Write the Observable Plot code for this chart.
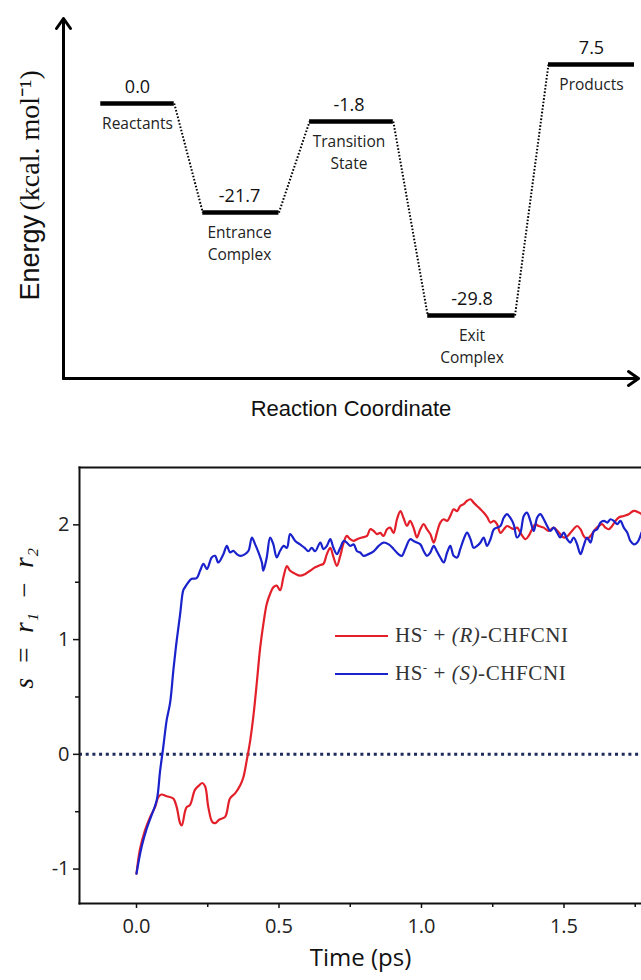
<!DOCTYPE html>
<html>
<head>
<meta charset="utf-8">
<script src="https://cdn.jsdelivr.net/npm/d3@7"></script>
<script src="https://cdn.jsdelivr.net/npm/@observablehq/plot@0.6"></script>
<style>
  body { margin: 0; background: #fff; }
  #wrap { position: relative; width: 641px; }
  #wrap svg { display: block; }
  #legend { position: absolute; left: 335px; top: 614px; font-family: "Liberation Serif", serif; font-size: 21px; letter-spacing: 0.6px; line-height: 33px; color: #333; }
  #legend .sw { display: inline-block; width: 53px; height: 0; border-top: 2.5px solid; vertical-align: middle; margin-right: 7px; position: relative; top: -1px; }
  #legend sup { font-size: 12px; }
</style>
</head>
<body>
<div id="wrap"></div>
<script>
// ---------- Top panel data ----------
const stages = ["Reactants", "Entrance\nComplex", "Transition\nState", "Exit\nComplex", "Products"];
const energies = [0.0, -21.7, -1.8, -29.8, 7.5];

// ---------- Bottom panel data (time in ps, s = r1 - r2) ----------
const timeR = [0,0.012,0.03,0.048,0.065,0.077,0.088,0.106,0.129,0.141,0.153,0.159,0.17,0.176,0.188,0.205,0.22,0.231,0.241,0.252,0.266,0.276,0.29,0.311,0.328,0.346,0.364,0.375,0.387,0.399,0.41,0.422,0.434,0.446,0.457,0.469,0.48,0.492,0.504,0.516,0.528,0.539,0.556,0.574,0.591,0.609,0.627,0.645,0.656,0.668,0.68,0.691,0.703,0.715,0.727,0.738,0.75,0.762,0.774,0.791,0.809,0.82,0.832,0.844,0.855,0.867,0.879,0.89,0.902,0.914,0.926,0.937,0.949,0.96,0.972,0.984,0.996,1.008,1.019,1.031,1.043,1.054,1.066,1.078,1.09,1.101,1.113,1.125,1.136,1.148,1.16,1.172,1.183,1.195,1.207,1.218,1.23,1.242,1.254,1.265,1.277,1.289,1.3,1.312,1.324,1.336,1.347,1.365,1.376,1.388,1.4,1.411,1.429,1.446,1.464,1.482,1.499,1.511,1.528,1.546,1.558,1.569,1.581,1.593,1.61,1.622,1.634,1.645,1.657,1.669,1.681,1.692,1.71,1.727,1.745,1.763,1.772];
const sR = [-1.04,-0.83,-0.66,-0.545,-0.46,-0.37,-0.35,-0.365,-0.385,-0.46,-0.6,-0.62,-0.5,-0.46,-0.44,-0.31,-0.27,-0.25,-0.28,-0.46,-0.59,-0.6,-0.57,-0.545,-0.385,-0.34,-0.27,-0.2,-0.05,0.12,0.33,0.62,0.93,1.15,1.31,1.4,1.455,1.47,1.43,1.55,1.64,1.6,1.575,1.557,1.57,1.6,1.63,1.65,1.66,1.745,1.8,1.72,1.643,1.73,1.846,1.904,1.875,1.86,1.875,1.89,1.904,1.962,1.947,1.92,1.93,1.904,1.962,1.976,1.93,2.049,2.12,2.06,1.99,2.035,1.976,1.89,1.962,2.006,1.962,1.92,1.846,1.93,2.02,2.049,2.035,2.078,2.136,2.12,2.165,2.18,2.21,2.223,2.194,2.165,2.136,2.107,2.07,2.02,2.035,2.006,1.93,1.962,1.99,1.976,1.962,1.976,1.93,1.875,1.904,1.962,2.006,1.99,1.976,1.947,1.976,1.933,1.89,1.9,1.947,1.99,1.962,1.904,1.875,1.904,1.962,1.99,2.006,1.976,1.962,1.99,2.035,2.064,2.078,2.093,2.122,2.107,2.093];

const timeS = [0,0.018,0.036,0.053,0.071,0.083,0.094,0.106,0.118,0.13,0.141,0.153,0.164,0.17,0.182,0.194,0.211,0.223,0.235,0.247,0.264,0.276,0.287,0.305,0.317,0.328,0.34,0.352,0.364,0.381,0.393,0.405,0.416,0.428,0.44,0.445,0.457,0.469,0.48,0.492,0.504,0.516,0.528,0.539,0.557,0.574,0.59,0.603,0.615,0.627,0.645,0.656,0.668,0.68,0.691,0.703,0.715,0.727,0.738,0.75,0.762,0.774,0.785,0.797,0.814,0.832,0.85,0.867,0.885,0.902,0.919,0.931,0.943,0.96,0.972,0.984,0.996,1.008,1.019,1.031,1.043,1.054,1.066,1.078,1.09,1.101,1.113,1.125,1.136,1.148,1.16,1.172,1.183,1.195,1.207,1.218,1.23,1.242,1.254,1.265,1.277,1.289,1.3,1.312,1.324,1.335,1.347,1.359,1.37,1.382,1.394,1.406,1.417,1.429,1.441,1.452,1.464,1.476,1.487,1.499,1.511,1.522,1.534,1.546,1.558,1.569,1.581,1.593,1.605,1.616,1.628,1.64,1.652,1.663,1.675,1.687,1.698,1.71,1.722,1.733,1.745,1.757,1.772];
const sS = [-1.04,-0.806,-0.646,-0.53,-0.4,-0.14,0.064,0.3,0.45,0.75,0.99,1.22,1.43,1.455,1.5,1.53,1.535,1.6,1.66,1.615,1.716,1.73,1.672,1.745,1.817,1.76,1.774,1.745,1.73,1.745,1.774,1.89,1.832,1.76,1.672,1.6,1.716,1.89,1.832,1.716,1.774,1.817,1.8,1.92,1.86,1.83,1.8,1.77,1.8,1.77,1.846,1.788,1.817,1.875,1.8,1.745,1.8,1.86,1.846,1.817,1.83,1.77,1.759,1.73,1.745,1.77,1.817,1.846,1.83,1.79,1.745,1.73,1.79,1.875,1.86,1.846,1.83,1.77,1.73,1.759,1.817,1.77,1.716,1.672,1.759,1.817,1.73,1.716,1.788,1.875,1.933,1.875,1.8,1.817,1.846,1.89,1.817,1.875,1.962,1.976,1.99,2.064,2.093,2.06,2.0,1.89,1.93,2.078,2.107,2.035,1.947,2.064,2.093,2.049,1.99,1.947,1.976,1.933,1.89,1.933,1.875,1.846,1.89,1.83,1.745,1.817,1.89,1.846,1.947,1.96,2.02,2.035,2.02,2.049,2.035,2.006,2.035,1.976,1.933,1.86,1.83,1.846,1.933];

const xMajor = [0, 0.5, 1, 1.5];
const xMinor = [0.25, 0.75, 1.25, 1.75];
const yMajor = [2, 1, 0, -1];
const yMinor = [1.5, 0.5, -0.5];

const seriesNames = ["HS⁻ + (R)-CHFCNI", "HS⁻ + (S)-CHFCNI"];
const colors = ["#e3202a", "#1a22cc"];

// ---------- Build top panel ----------
const hw = 0.36; // half width of an energy level, in stage units
const levels = stages.map((name, i) => ({i, name, energy: energies[i]}));
const links = levels.slice(0, -1).map((d, i) => ({
  x1: d.i + hw, y1: d.energy, x2: levels[i + 1].i - hw, y2: levels[i + 1].energy
}));
// schematic (not-to-scale) layout of the diagram, as piecewise scale transforms
const stageLayout = d3.scaleLinear([0, 1, 2, 3, 4], [0, 0.2247, 0.4659, 0.7368, 1]);
const energyLayout = d3.scaleLinear(d3.sort(energies), [0, 0.41, 0.773, 0.845, 1]);

const axisArrow = {
  draw(context, l) {
    context.moveTo(0, 0);
    context.lineTo(0, -l);
    context.moveTo(-7, -l + 10);
    context.lineTo(0, -l);
    context.lineTo(7, -l + 10);
  }
};

const topChart = Plot.plot({
  width: 641, height: 440,
  marginLeft: 63, marginTop: 18, marginBottom: 62, marginRight: 3,
  style: {fontFamily: "Open Sans", color: "#111", background: "#fff"},
  x: {transform: stageLayout, domain: [0, 1], range: [137, 591], axis: null},
  y: {transform: energyLayout, domain: [0, 1], range: [315, 64], axis: null},
  marks: [
    Plot.vector([0], {frameAnchor: "bottom-left", anchor: "start", length: 360, rotate: 0, shape: axisArrow, stroke: "#000", strokeWidth: 3}),
    Plot.vector([0], {frameAnchor: "bottom-left", anchor: "start", length: 575, rotate: 90, shape: axisArrow, stroke: "#000", strokeWidth: 3}),
    Plot.link(links, {x1: "x1", y1: "y1", x2: "x2", y2: "y2", stroke: "#000", strokeWidth: 2, strokeDasharray: "1.6 1.8"}),
    Plot.ruleY(levels, {y: "energy", x1: d => d.i - hw, x2: d => d.i + hw, stroke: "#000", strokeWidth: 4.5}),
    Plot.text(levels, {x: "i", y: "energy", text: d => d.energy.toFixed(1), dy: -16, fontSize: 18, fill: "#111"}),
    Plot.text(levels, {x: "i", y: "energy", text: "name", lineAnchor: "top", dy: 10, fontSize: 15.5, lineHeight: 1.4, fill: "#222"}),
    Plot.text(["Energy"], {frameAnchor: "left", rotate: -90, textAnchor: "start", dx: -33, dy: 102, fontSize: 27, fontFamily: "Liberation Sans", fill: "#111"}),
    Plot.text(["(kcal. mol⁻¹)"], {frameAnchor: "left", rotate: -90, textAnchor: "start", dx: -33, dy: 12, fontSize: 28, fontFamily: "Liberation Serif", fill: "#111"}),
    Plot.text(["Reaction Coordinate"], {frameAnchor: "bottom", dy: 37, fontSize: 22, fontFamily: "Liberation Sans", fill: "#111"})
  ]
});

// ---------- Build bottom panel ----------
const dataR = timeR.map((t, k) => ({t, s: sR[k]}));
const dataS = timeS.map((t, k) => ({t, s: sS[k]}));

const bottomChart = Plot.plot({
  width: 641, height: 540,
  marginLeft: 79, marginRight: 0, marginTop: 27, marginBottom: 77,
  style: {fontFamily: "Open Sans", fontSize: "20px", color: "#111", background: "#fff"},
  x: {domain: [-0.2, 1.772]},
  y: {domain: [-1.3, 2.5]},
  marks: [
    Plot.ruleY([0], {stroke: "#1c2b5a", strokeWidth: 3, strokeDasharray: "3 3.7"}),
    Plot.line(dataR, {x: "t", y: "s", stroke: colors[0], strokeWidth: 2.2, curve: "catmull-rom", clip: true}),
    Plot.line(dataS, {x: "t", y: "s", stroke: colors[1], strokeWidth: 2.2, curve: "catmull-rom", clip: true}),
    Plot.frame({anchor: "top", stroke: "#111", strokeWidth: 2}),
    Plot.frame({anchor: "left", stroke: "#111", strokeWidth: 2}),
    Plot.frame({anchor: "bottom", stroke: "#111", strokeWidth: 2}),
    Plot.axisY(yMajor, {tickSize: 6, tickPadding: 4, tickFormat: d => String(d), strokeWidth: 1.5, label: null, fill: "#222"}),
    Plot.axisY(yMinor, {tickSize: 4, tickFormat: () => "", strokeWidth: 1.5, label: null}),
    Plot.axisX(xMajor, {tickSize: 5, tickPadding: 10, tickFormat: d3.format(".1f"), strokeWidth: 1.5, label: null, fill: "#222"}),
    Plot.axisX(xMinor, {tickSize: 4, tickFormat: () => "", strokeWidth: 1.5, label: null}),
    Plot.text(["s\u2002=\u2002r₁\u2002−\u2002r₂"], {frameAnchor: "left", rotate: -90, dx: -55, dy: 3, fontSize: 27, fontStyle: "italic", fontFamily: "Liberation Serif", fill: "#111"}),
    Plot.text(["Time (ps)"], {frameAnchor: "bottom", dy: 62, fontSize: 24, fontFamily: "Open Sans", fill: "#111"})
  ]
});

const wrap = document.getElementById("wrap");
wrap.appendChild(topChart);
wrap.appendChild(bottomChart);

// Legend (HTML, placed over the bottom chart)
const legend = document.createElement("div");
legend.id = "legend";
seriesNames.forEach((name, k) => {
  const row = document.createElement("div");
  const sw = document.createElement("span");
  sw.className = "sw";
  sw.style.borderTopColor = colors[k];
  row.appendChild(sw);
  const m = name.match(/^HS⁻ \+ (\(.\))(.*)$/);
  row.insertAdjacentHTML("beforeend", `HS<sup>-</sup> + <i>${m[1]}</i>${m[2]}`);
  legend.appendChild(row);
});
wrap.appendChild(legend);
</script>
</body>
</html>
